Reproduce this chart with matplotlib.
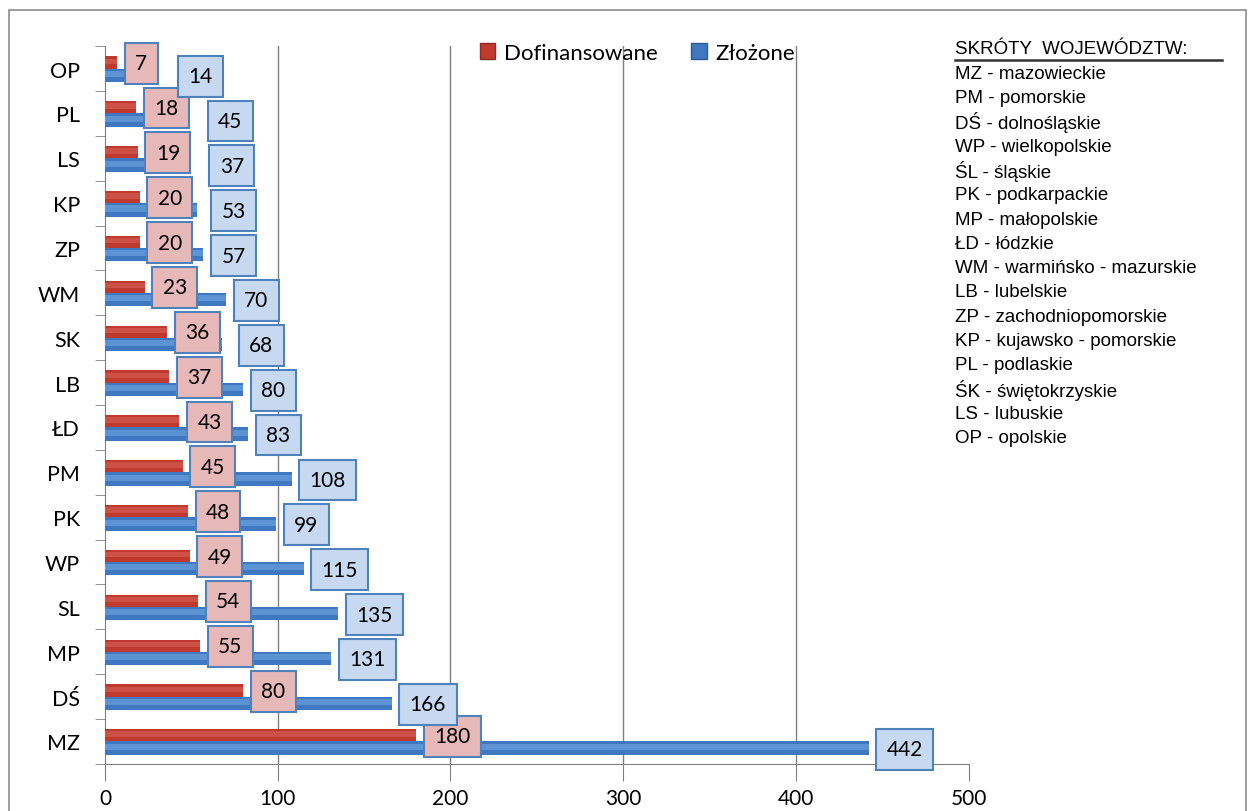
import matplotlib.pyplot as plt
from matplotlib.patches import Rectangle, Patch
from matplotlib.lines import Line2D
import numpy as np

# bottom to top, as on the chart
regions = ['MZ', 'DŚ', 'MP', 'SL', 'WP', 'PK', 'PM', 'ŁD', 'LB', 'SK', 'WM', 'ZP', 'KP', 'LS', 'PL', 'OP']
dofinansowane = [180, 80, 55, 54, 49, 48, 45, 43, 37, 36, 23, 20, 20, 19, 18, 7]
zlozone = [442, 166, 131, 135, 115, 99, 108, 83, 80, 68, 70, 57, 53, 37, 45, 14]

skroty_title = 'SKRÓTY  WOJEWÓDZTW:'
skroty = ['MZ - mazowieckie', 'PM - pomorskie', 'DŚ - dolnośląskie', 'WP - wielkopolskie',
          'ŚL - śląskie', 'PK - podkarpackie', 'MP - małopolskie', 'ŁD - łódzkie',
          'WM - warmińsko - mazurskie', 'LB - lubelskie', 'ZP - zachodniopomorskie',
          'KP - kujawsko - pomorskie', 'PL - podlaskie', 'ŚK - świętokrzyskie',
          'LS - lubuskie', 'OP - opolskie']

plt.rcParams['font.family'] = ['Lato', 'DejaVu Sans']

red = '#C0392F'
red_hi = '#E06A62'
blue = '#3F78C0'
blue_hi = '#79AEE6'

fig = plt.figure(figsize=(12.5, 8.12), dpi=100)
ax = fig.add_axes([0.084, 0.058, 0.691, 0.884])

y = np.arange(len(regions))
hr, hb = 0.27, 0.30
ax.barh(y + hr / 2, dofinansowane, height=hr, color=red, zorder=3)
ax.barh(y + hr * 0.6, dofinansowane, height=hr * 0.45, color=red_hi, zorder=3, alpha=0.45)
ax.barh(y - hb / 2, zlozone, height=hb, color=blue, zorder=3)
ax.barh(y - hb * 0.4, zlozone, height=hb * 0.45, color=blue_hi, zorder=3, alpha=0.5)

ax.set_xlim(0, 500)
ax.set_ylim(-0.5, len(regions) - 0.5)
ax.set_xticks([0, 100, 200, 300, 400, 500])
ax.set_yticks(y)
ax.set_yticklabels(regions)
ax.set_yticks(np.arange(-0.5, len(regions)), minor=True)
ax.tick_params(axis='y', which='major', length=0, pad=18, labelsize=15.5)
ax.tick_params(axis='y', which='minor', length=7, color='#808080')
ax.tick_params(axis='x', length=12, color='#808080', labelsize=15, pad=5)
for s in ['top', 'right']:
    ax.spines[s].set_visible(False)
for s in ['left', 'bottom']:
    ax.spines[s].set_color('#808080')
for gx in [100, 200, 300, 400]:
    ax.axvline(gx, color='#808080', lw=1, zorder=1)

px = 864 / 500.0  # pixels per data unit
for i in range(len(regions)):
    d, z = dofinansowane[i], zlozone[i]
    ax.annotate(str(d), (d, i + 0.12), xytext=(18, 0), textcoords='offset pixels',
                ha='left', va='center', fontsize=15, zorder=5,
                bbox=dict(boxstyle='square,pad=0.5', fc='#E6B9B8', ec='#4F81BD', lw=1.5))
    red_right = d + (8 + 22 + 11 * len(str(d))) / px
    start = max(z, red_right + 12 / px)
    ax.annotate(str(z), (start, i - 0.17), xytext=(18, 0), textcoords='offset pixels',
                ha='left', va='center', fontsize=15, zorder=5,
                bbox=dict(boxstyle='square,pad=0.5', fc='#C6D9F1', ec='#4F81BD', lw=1.5))

handles = [Patch(facecolor=red, edgecolor='#8C2A24'), Patch(facecolor=blue, edgecolor='#2C5A93')]
fig.legend(handles, ['Dofinansowane', 'Złożone'], loc='center', bbox_to_anchor=(0.51, 0.934),
           ncol=2, frameon=False, fontsize=16, handlelength=0.7, handleheight=0.7,
           handletextpad=0.4, columnspacing=1.5)

lfont = ['Liberation Sans', 'DejaVu Sans']
y0 = 1 - 50 / 812
fig.text(955 / 1250, y0, skroty_title, fontsize=13.5, family=lfont, va='center', ha='left')
fig.add_artist(Line2D([955 / 1250, 1222 / 1250], [y0 - 11 / 812, y0 - 11 / 812],
                      color='#333333', lw=1.8))
for k, s in enumerate(skroty):
    fig.text(955 / 1250, y0 - (k + 1) * 24.3 / 812, s, fontsize=13.5, family=lfont,
             va='center', ha='left')

fig.add_artist(Rectangle((9 / 1250, -0.01), 1237 / 1250, 1 - 11 / 812 + 0.01,
                         transform=fig.transFigure, fill=False, ec='#8C8C8C', lw=1.2))

fig.savefig('out.png', dpi=100)
